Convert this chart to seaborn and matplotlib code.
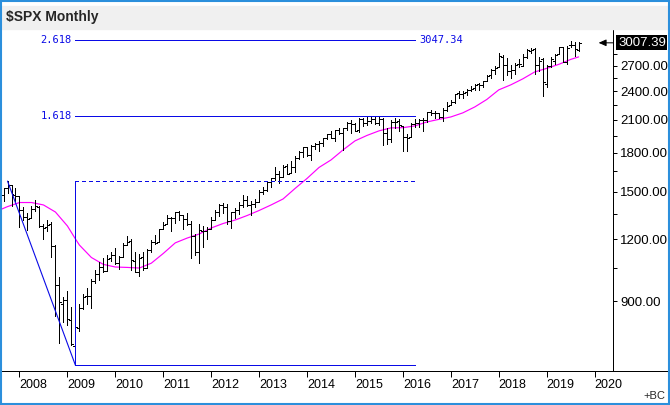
import numpy as np
import pandas as pd
import matplotlib
matplotlib.use("Agg")
import matplotlib.pyplot as plt
import matplotlib.ticker as mticker
import matplotlib.transforms as mtrans
from matplotlib.lines import Line2D
from matplotlib.patches import Rectangle
import seaborn as sns


# ── data: $SPX monthly OHLC, Aug 2007 .. Sep 2019 ────────────────────────────

months = pd.period_range("2007-08", "2019-09", freq="M")

opens = [
    1455.18, 1473.99, 1527.29, 1545.79, 1479.37,
    1467.97, 1378.60, 1330.45, 1326.41, 1385.97, 1399.62, 1276.69, 1269.42, 1287.83, 1164.17, 968.67, 888.61,
    902.99, 823.09, 729.57, 793.59, 872.74, 923.26, 920.82, 990.22, 1019.52, 1054.91, 1036.18, 1098.89,
    1116.56, 1073.89, 1105.36, 1171.23, 1188.58, 1087.30, 1031.10, 1107.53, 1049.72, 1143.49, 1185.71, 1186.60,
    1257.62, 1289.14, 1328.64, 1329.48, 1365.21, 1345.20, 1320.64, 1292.59, 1219.12, 1131.21, 1251.00, 1246.91,
    1258.86, 1312.45, 1365.90, 1408.47, 1397.86, 1309.87, 1362.33, 1379.32, 1406.54, 1440.90, 1412.20, 1416.18,
    1426.19, 1498.11, 1514.68, 1569.18, 1597.55, 1631.71, 1609.78, 1689.42, 1635.95, 1682.41, 1758.70, 1806.55,
    1845.86, 1782.68, 1857.68, 1873.96, 1884.39, 1923.87, 1962.29, 1929.80, 2004.07, 1971.44, 2018.21, 2065.78,
    2058.90, 1996.67, 2105.23, 2067.63, 2087.38, 2108.64, 2067.00, 2104.49, 1970.09, 1919.65, 2080.76, 2082.93,
    2038.20, 1936.94, 1937.09, 2056.62, 2067.17, 2093.94, 2099.34, 2173.15, 2171.33, 2164.33, 2128.68, 2200.17,
    2251.57, 2285.59, 2380.13, 2362.34, 2388.50, 2415.65, 2431.39, 2477.10, 2474.42, 2521.20, 2583.21, 2645.10,
    2683.73, 2816.45, 2715.22, 2633.45, 2642.96, 2718.70, 2704.95, 2821.17, 2896.96, 2926.29, 2717.58, 2790.50,
    2476.96, 2702.32, 2760.24, 2848.63, 2952.33, 2751.53, 2971.41, 2980.32, 2909.01,
]

highs = [
    1503.89, 1529.39, 1576.09, 1545.79, 1523.57,
    1471.77, 1396.02, 1359.68, 1404.57, 1440.24, 1404.05, 1292.17, 1313.15, 1303.04, 1167.03, 1007.51, 918.85,
    943.85, 875.01, 832.98, 888.70, 930.17, 956.23, 996.68, 1039.47, 1080.15, 1101.36, 1113.69, 1130.38,
    1150.45, 1112.42, 1180.69, 1219.80, 1205.13, 1131.23, 1120.95, 1129.24, 1148.90, 1196.14, 1227.08, 1262.60,
    1302.67, 1344.07, 1332.28, 1364.56, 1370.58, 1345.20, 1356.48, 1307.38, 1229.29, 1292.66, 1277.55, 1269.37,
    1333.47, 1378.04, 1419.15, 1422.38, 1415.32, 1363.46, 1391.74, 1426.68, 1474.51, 1470.96, 1434.27, 1448.00,
    1509.94, 1530.94, 1570.28, 1597.57, 1687.18, 1654.19, 1698.78, 1709.67, 1729.86, 1775.22, 1813.55, 1849.44,
    1850.84, 1867.92, 1883.97, 1897.28, 1924.03, 1968.17, 1991.39, 2005.04, 2019.26, 2018.19, 2075.76, 2093.55,
    2072.36, 2119.59, 2117.52, 2125.92, 2134.72, 2129.87, 2132.82, 2112.66, 2020.86, 2094.32, 2116.48, 2104.27,
    2038.20, 1962.96, 2072.21, 2111.05, 2103.48, 2120.55, 2177.09, 2193.81, 2187.87, 2169.60, 2214.10, 2277.53,
    2300.99, 2371.54, 2400.98, 2398.16, 2418.71, 2453.82, 2484.04, 2490.87, 2519.44, 2582.98, 2657.74, 2694.97,
    2872.87, 2835.96, 2801.90, 2717.49, 2742.24, 2791.47, 2848.03, 2916.50, 2940.91, 2939.86, 2815.15, 2800.18,
    2708.95, 2813.49, 2860.31, 2949.52, 2954.13, 2964.15, 3027.98, 3013.59, 3020.74,
]

lows = [
    1370.60, 1439.29, 1489.56, 1406.10, 1435.65,
    1270.05, 1316.75, 1256.98, 1324.35, 1373.07, 1272.00, 1200.44, 1248.64, 1106.39, 839.80, 741.02, 815.69,
    804.22, 734.52, 666.79, 783.32, 866.10, 888.86, 869.32, 978.51, 991.97, 1029.38, 1033.38, 1085.89,
    1071.59, 1044.50, 1105.36, 1170.69, 1040.78, 1028.33, 1010.91, 1039.70, 1049.72, 1131.87, 1173.00, 1186.60,
    1257.62, 1289.14, 1249.05, 1294.70, 1311.80, 1258.07, 1282.86, 1101.54, 1114.22, 1074.77, 1158.66, 1202.37,
    1258.86, 1312.45, 1340.03, 1357.38, 1291.98, 1266.74, 1325.41, 1354.65, 1396.56, 1403.28, 1343.35, 1398.11,
    1426.19, 1485.01, 1501.48, 1536.03, 1581.28, 1560.33, 1604.57, 1627.47, 1633.41, 1646.47, 1746.20, 1767.99,
    1770.45, 1737.92, 1834.44, 1814.36, 1859.79, 1915.98, 1930.67, 1904.78, 1964.04, 1820.66, 2001.01, 1972.56,
    1988.12, 1980.90, 2039.69, 2048.38, 2067.93, 2056.32, 2044.02, 1867.01, 1871.91, 1893.70, 2019.39, 1993.26,
    1812.29, 1810.10, 1937.09, 2033.80, 2025.91, 1991.68, 2074.02, 2147.58, 2119.12, 2114.72, 2083.79, 2187.44,
    2245.13, 2271.65, 2322.25, 2328.95, 2352.72, 2405.70, 2407.70, 2417.35, 2446.55, 2520.40, 2557.45, 2605.52,
    2682.36, 2532.69, 2585.89, 2553.80, 2594.62, 2691.99, 2698.95, 2796.34, 2864.12, 2603.54, 2631.09, 2346.58,
    2443.96, 2681.83, 2722.27, 2848.63, 2750.52, 2728.81, 2952.22, 2822.12, 2891.85,
]

closes = [
    1473.99, 1526.75, 1549.38, 1481.14, 1468.36,
    1378.55, 1330.63, 1322.70, 1385.59, 1400.38, 1280.00, 1267.38, 1282.83, 1166.36, 968.75, 896.24, 903.25,
    825.88, 735.09, 797.87, 872.81, 919.14, 919.32, 987.48, 1020.62, 1057.08, 1036.19, 1095.63, 1115.10,
    1073.87, 1104.49, 1169.43, 1186.69, 1089.41, 1030.71, 1101.60, 1049.33, 1141.20, 1183.26, 1180.55, 1257.64,
    1286.12, 1327.22, 1325.83, 1363.61, 1345.20, 1320.64, 1292.28, 1218.89, 1131.42, 1253.30, 1246.96, 1257.60,
    1312.41, 1365.68, 1408.47, 1397.91, 1310.33, 1362.16, 1379.32, 1406.58, 1440.67, 1412.16, 1416.18, 1426.19,
    1498.11, 1514.68, 1569.19, 1597.57, 1630.74, 1606.28, 1685.73, 1632.97, 1681.55, 1756.54, 1805.81, 1848.36,
    1782.59, 1859.45, 1872.34, 1883.95, 1923.57, 1960.23, 1930.67, 2003.37, 1972.29, 2018.05, 2067.56, 2058.90,
    1994.99, 2104.50, 2067.89, 2085.51, 2107.39, 2063.11, 2103.84, 1972.18, 1920.03, 2079.36, 2080.41, 2043.94,
    1940.24, 1932.23, 2059.74, 2065.30, 2096.95, 2098.86, 2173.60, 2170.95, 2168.27, 2126.15, 2198.81, 2238.83,
    2278.87, 2363.64, 2362.72, 2384.20, 2411.80, 2423.41, 2470.30, 2471.65, 2519.36, 2575.26, 2647.58, 2673.61,
    2823.81, 2713.83, 2640.87, 2648.05, 2705.27, 2718.37, 2816.29, 2901.52, 2913.98, 2711.74, 2760.17, 2506.85,
    2704.10, 2784.49, 2834.40, 2945.83, 2752.06, 2941.76, 2980.38, 2926.46, 3007.39,
]

# magenta moving average
ma_months = [
    "2007-08", "2007-10", "2008-01", "2008-04", "2008-07", "2008-10",
    "2009-01", "2009-03", "2009-04", "2009-07", "2009-10",
    "2010-01", "2010-04", "2010-07", "2010-10",
    "2011-01", "2011-04", "2011-07", "2011-10",
    "2012-01", "2012-04", "2012-07", "2012-10",
    "2013-01", "2013-04", "2013-07", "2013-10",
    "2014-01", "2014-04", "2014-07", "2014-10",
    "2015-01", "2015-04", "2015-07", "2015-10",
    "2016-01", "2016-04", "2016-07", "2016-10",
    "2017-01", "2017-04", "2017-07", "2017-10",
    "2018-01", "2018-04", "2018-07", "2018-10",
    "2019-01", "2019-04", "2019-07", "2019-09",
]
ma_values = [
    1377, 1399, 1426, 1426, 1410, 1364,
    1278, 1203, 1169, 1103, 1068,
    1055, 1053, 1050, 1074,
    1124, 1181, 1208, 1231,
    1266, 1293, 1314, 1342,
    1374, 1410, 1450, 1523,
    1596, 1680, 1740, 1823,
    1902, 1951, 1993, 2021,
    2023, 2040, 2078, 2103,
    2127, 2168, 2229, 2308,
    2414, 2471, 2541, 2625,
    2669, 2719, 2783, 2816,
]

# Fibonacci extension drawn from the Oct 2007 top to the Mar 2009 bottom
fib_top = ("2007-10", 1576.09)
fib_bottom = ("2009-03", 666.79)
fib_end = "2016-04"
fib_ratios = [0.0, 1.0, 1.618, 2.618]

years = list(range(2008, 2021))
major_yticks = [900, 1200, 1500, 1800, 2100, 2400, 2700]
minor_yticks = [1050, 1350, 1650, 1950, 2250, 2550, 2850]


def month_pos(p):
    p = pd.Period(p, freq="M")
    return (p.year - 2008) * 12 + p.month - 1


# ── figure ───────────────────────────────────────────────────────────────────

sns.set_style("white")
plt.rcParams["font.family"] = ["Liberation Sans", "DejaVu Sans"]

W, H = 670, 405
PX = 0.72  # one pixel, in points, at 100 dpi
fig = plt.figure(figsize=(W / 100, H / 100), dpi=100)
ax = fig.add_axes([0, 1 - 371 / H, 613 / W, (371 - 29) / H])
ax.set_facecolor("white")

blue = "#0a0ae6"
x = np.array([month_pos(p) for p in months])
ax.set_yscale("log")

# OHLC bars
bar_kw = dict(color="black", lw=PX, antialiased=False, zorder=3)
ax.vlines(x, lows, highs, **bar_kw)
ax.hlines(opens, x - 0.5, x, **bar_kw)
ax.hlines(closes, x, x + 0.5, **bar_kw)

ma_x = [month_pos(m) for m in ma_months]
sns.lineplot(x=ma_x, y=ma_values, color="#ff00ff", lw=0.85, estimator=None,
             ax=ax, zorder=2)

# Fibonacci extension
x_top, x_bot, x_end = month_pos(fib_top[0]), month_pos(fib_bottom[0]), month_pos(fib_end)
lo, hi = fib_bottom[1], fib_top[1]
fib_kw = dict(color=blue, lw=PX, antialiased=False, zorder=4)
ax.plot([x_top, x_bot], [hi, lo], color=blue, lw=0.8, zorder=4)
ax.plot([x_bot, x_bot], [lo, hi], **fib_kw)
for r in fib_ratios:
    lvl = lo + r * (hi - lo)
    ls = (0, (4, 3)) if r == 1.0 else "-"
    ax.plot([x_bot, x_end], [lvl, lvl], ls=ls, **fib_kw)
    if r > 1:
        ax.text(x_bot - 0.9, lvl, f"{r:.3f}", color=blue, fontsize=7.5,
                family="DejaVu Sans Mono", ha="right", va="center")
ext = lo + fib_ratios[-1] * (hi - lo)
ax.text(x_end + 1.2, ext, f"{ext:.2f}", color=blue, fontsize=7.5,
        family="DejaVu Sans Mono", ha="left", va="center")

# axes
ax.set_xlim(-4.88, 148.6)
ax.set_ylim(649, 3208)

ax.yaxis.tick_right()
ax.yaxis.set_major_locator(mticker.FixedLocator(major_yticks))
ax.yaxis.set_major_formatter(mticker.FuncFormatter(lambda v, p: f"{v:.2f}"))
ax.yaxis.set_minor_locator(mticker.FixedLocator(minor_yticks))
ax.yaxis.set_minor_formatter(mticker.NullFormatter())
ax.tick_params(axis="y", which="both", right=True, left=False, labelright=True,
               direction="out", length=3, width=PX, pad=2, labelsize=9.5,
               colors="black")

ax.set_xticks([month_pos(f"{y}-01") for y in years])
ax.set_xticklabels([str(y) for y in years])
ax.tick_params(axis="x", bottom=True, direction="out", length=4, width=PX,
               pad=2, labelsize=9, colors="black")
for lab in ax.get_xticklabels():
    lab.set_ha("left")

for side in ["left", "top"]:
    ax.spines[side].set_visible(False)
for side in ["right", "bottom"]:
    ax.spines[side].set_color("black")
    ax.spines[side].set_linewidth(PX)

# last price marker and box
last = closes[-1]
ax.annotate("", xy=(145.0, last), xytext=(148.6, last),
            arrowprops=dict(arrowstyle="-|>,head_length=0.45,head_width=0.2",
                            color="black", lw=PX, shrinkA=0, shrinkB=0),
            annotation_clip=False)
trans = mtrans.blended_transform_factory(ax.transAxes, ax.transData)
ax.text(1 + 5 / 613, last, f"{last:.2f}", transform=trans, color="white",
        fontsize=9.5, ha="left", va="center", zorder=6,
        bbox=dict(boxstyle="square,pad=0.12", fc="black", ec="none"))

# chart frame, title bar and footer
fig.add_artist(Line2D([613 / W, 668 / W], [1 - 371 / H] * 2, color="black", lw=PX))
fig.patches.append(Rectangle((2 / W, 1 - 29 / H), 666 / W, 23 / H,
                             transform=fig.transFigure, color="#f0f0f0", zorder=0))
fig.text(6 / W, 1 - 17.5 / H, r"\$SPX Monthly", fontsize=10, weight="bold",
         ha="left", va="center")
fig.text(665 / W, 1 - 396 / H, "+BC", fontsize=8, ha="right", va="center")
fig.patches.append(Rectangle((0.75 / W, 0.75 / H), 668.5 / W, 403.5 / H,
                             transform=fig.transFigure, fill=False,
                             edgecolor="#2b8fdc", lw=1.5, zorder=10))

fig.savefig("out.png", dpi=100)
plt.close(fig)
